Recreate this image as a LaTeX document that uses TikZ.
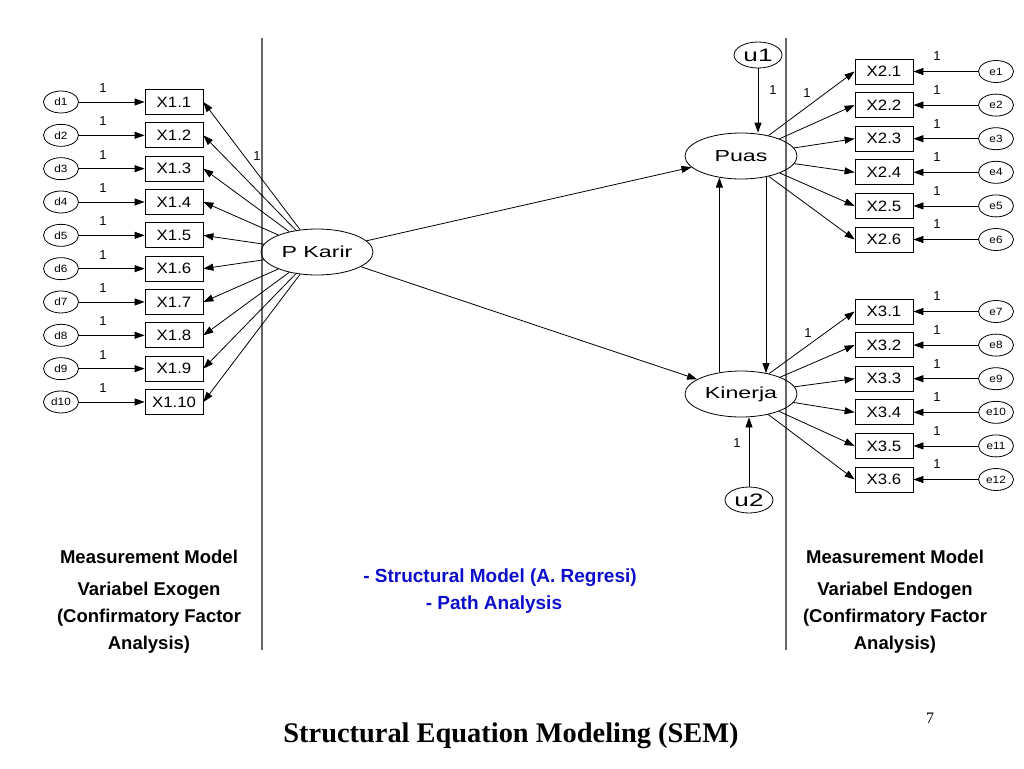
\documentclass[tikz,border=0pt]{standalone}
\usepackage{fontspec}
\setmainfont{Liberation Sans}
\newfontfamily\seriff{Liberation Serif}
\newfontfamily\spacedf[FakeStretch=1.12]{Liberation Sans}
\newfontfamily\widef[FakeStretch=1.45]{Liberation Sans}
\usetikzlibrary{shapes.geometric,arrows.meta}
\definecolor{capblue}{rgb}{0.05,0.05,0.8}
\definecolor{sepgray}{gray}{0.4}
\tikzset{
  obs/.style={draw, line width=0.8pt, minimum width=58pt, minimum height=25pt, inner sep=0pt,
    font=\spacedf\fontsize{15}{17}\selectfont},
  err/.style={draw, ellipse, line width=0.8pt, minimum width=35pt, minimum height=22pt, inner sep=0pt,
    font=\spacedf\fontsize{10.5}{12}\selectfont},
  lat/.style={draw, ellipse, line width=0.8pt, minimum width=112pt, minimum height=46pt, inner sep=0pt,
    font=\widef\fontsize{16}{19}\selectfont},
  dist/.style={draw, ellipse, line width=0.8pt, minimum width=48pt, minimum height=26pt, inner sep=0pt,
    font=\widef\fontsize{18}{20}\selectfont},
  arr/.style={-{Triangle[length=10pt,width=7pt]}, line width=0.8pt},
  one/.style={font=\fontsize{13}{15}\selectfont, inner sep=0pt},
  sepline/.style={draw=sepgray, line width=1.5pt},
  blacktxt/.style={anchor=base, inner sep=0pt, font=\bfseries\fontsize{18.5}{22}\selectfont},
  bluetxt/.style={anchor=base, inner sep=0pt, text=capblue, font=\bfseries\fontsize{19}{22}\selectfont},
}
\begin{document}
\begin{tikzpicture}[x=1pt,y=-1pt]
\useasboundingbox[fill=white] (0,0) rectangle (1024,768);

% separators
\draw[sepline] (262,38) -- (262,650);
\draw[sepline] (786,38) -- (786,650);

% latent variables
\node[lat] (pk) at (317,252) {P Karir};
\node[lat] (puas) at (741,156) {Puas};
\node[lat] (kin) at (741,394) {Kinerja};
\node[dist] (u1) at (758,55) {u1};
\node[dist] (u2) at (749,500) {u2};

% exogenous indicators
\foreach \i in {1,...,10}{
  \pgfmathsetmacro\yy{102+(\i-1)*33.33}
  \node[err] (d\i) at (61,\yy) {d\i};
  \node[obs] (x1-\i) at (174,\yy) {X1.\i};
  \node[one] (ld\i) at (103,\yy-14) {1};
  \draw[arr] (d\i) -- (x1-\i);
  \draw[arr] (pk) -- (x1-\i.east);
}
\node[one] (lpk) at (257,156) {1};

% Puas indicators
\foreach \i in {1,...,6}{
  \pgfmathsetmacro\yy{71.5+(\i-1)*33.6}
  \node[obs] (x2-\i) at (884,\yy) {X2.\i};
  \node[err] (e\i) at (996,\yy) {e\i};
  \node[one] (le\i) at (937,\yy-15) {1};
  \draw[arr] (e\i) -- (x2-\i);
  \draw[arr] (puas) -- (x2-\i.west);
}
\node[one] (lpuas) at (807,93) {1};

% Kinerja indicators
\foreach \i in {1,...,6}{
  \pgfmathsetmacro\yy{311.5+(\i-1)*33.6}
  \pgfmathtruncatemacro\j{\i+6}
  \node[obs] (x3-\i) at (884,\yy) {X3.\i};
  \node[err] (e\j) at (996,\yy) {e\j};
  \node[one] (le\j) at (937,\yy-15) {1};
  \draw[arr] (e\j) -- (x3-\i);
  \draw[arr] (kin) -- (x3-\i.west);
}
\node[one] (lkin) at (808,333) {1};

% structural paths
\draw[arr] (pk) -- (puas);
\draw[arr] (pk) -- (kin);
\draw[arr] (kin.135) -- (puas.225);
\draw[arr] (puas.-40) -- (kin.40);
\draw[arr] (u1.south) -- (puas.north -| u1.south);
\draw[arr] (u2.north) -- (kin.south -| u2.north);
\node[one] (lu1) at (773,90) {1};
\node[one] (lu2) at (737,443) {1};

% captions
\node[blacktxt] (c1) at (149,563.5) {Measurement Model};
\node[blacktxt] (c2) at (149,595.5) {Variabel Exogen};
\node[blacktxt] (c3) at (149,622.5) {(Confirmatory Factor};
\node[blacktxt] (c4) at (149,649.5) {Analysis)};

\node[blacktxt] (r1) at (895,563.5) {Measurement Model};
\node[blacktxt] (r2) at (895,595.5) {Variabel Endogen};
\node[blacktxt] (r3) at (895,622.5) {(Confirmatory Factor};
\node[blacktxt] (r4) at (895,649.5) {Analysis)};

\node[bluetxt] (b1) at (500,582.5) {- Structural Model (A. Regresi)};
\node[bluetxt] (b2) at (494,609.5) {- Path Analysis};

\node[anchor=base, inner sep=0pt, font=\seriff\bfseries\fontsize{28.4}{32}\selectfont] (title) at (511,742) {Structural Equation Modeling (SEM)};
\node[anchor=base, inner sep=0pt, font=\seriff\fontsize{16}{18}\selectfont] (pg) at (930,723.5) {7};
\end{tikzpicture}
\end{document}
